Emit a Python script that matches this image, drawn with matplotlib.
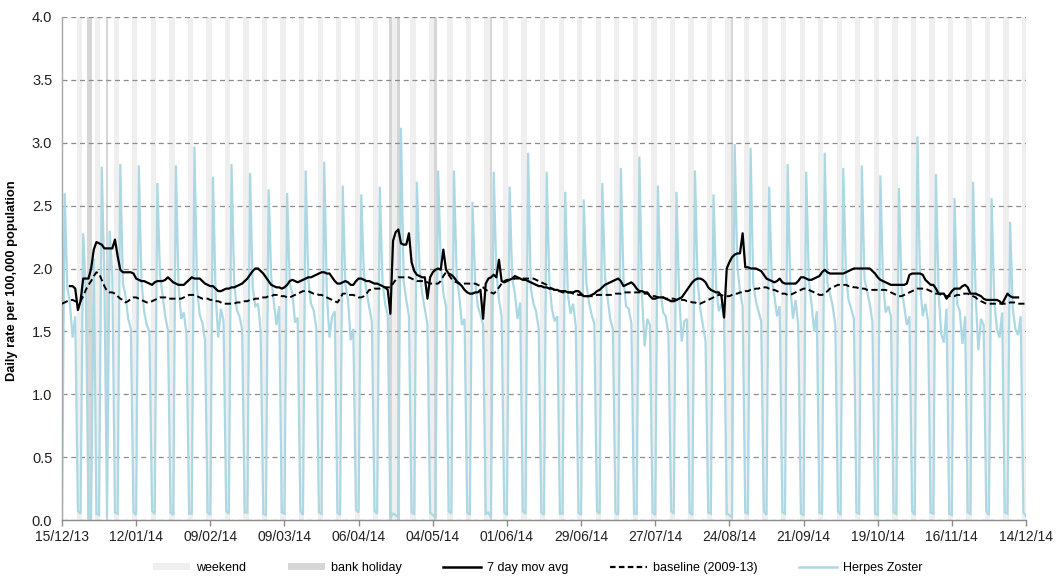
import numpy as np
import matplotlib
matplotlib.use("Agg")
import matplotlib.pyplot as plt
from matplotlib.patches import Patch
from matplotlib.lines import Line2D
from matplotlib.ticker import FormatStrFormatter
import datetime as dt

plt.rcParams['font.family'] = ['Liberation Sans', 'DejaVu Sans']

# ---------------- data ----------------
start_date = dt.date(2013, 12, 15)   # Sunday, day 0
n_days = 365

bank_holidays = ["2013-12-25", "2013-12-26", "2014-01-01", "2014-04-18",
                 "2014-04-21", "2014-05-05", "2014-05-26", "2014-08-25"]

tick_labels = ["15/12/13", "12/01/14", "09/02/14", "09/03/14", "06/04/14",
               "04/05/14", "01/06/14", "29/06/14", "27/07/14", "24/08/14",
               "21/09/14", "19/10/14", "16/11/14", "14/12/14"]

# Herpes Zoster daily rate, weeks Sun..Sat
herpes_zoster = [
    0.03, 2.60, 1.85, 1.72, 1.45, 1.62, 0.07,
    0.05, 2.28, 1.82, 0.02, 0.02, 2.08, 0.05,
    0.04, 2.81, 1.92, 0.02, 2.30, 1.95, 0.06,
    0.05, 2.83, 1.88, 1.78, 1.60, 1.52, 0.06,
    0.04, 2.82, 1.90, 1.66, 1.55, 1.50, 0.07,
    0.05, 2.68, 1.95, 1.78, 1.62, 1.51, 0.06,
    0.04, 2.82, 1.86, 1.60, 1.65, 1.48, 0.05,
    0.05, 2.97, 1.84, 1.63, 1.57, 1.43, 0.06,
    0.04, 2.73, 1.80, 1.45, 1.68, 1.58, 0.07,
    0.05, 2.83, 1.90, 1.67, 1.62, 1.52, 0.06,
    0.06, 2.76, 1.85, 1.70, 1.72, 1.51, 0.05,
    0.04, 2.63, 1.93, 1.73, 1.55, 1.70, 0.06,
    0.05, 2.60, 1.88, 1.80, 1.57, 1.61, 0.07,
    0.04, 2.78, 1.92, 1.72, 1.67, 1.53, 0.06,
    0.05, 2.85, 1.80, 1.45, 1.62, 1.66, 0.06,
    0.04, 2.66, 1.87, 1.75, 1.43, 1.52, 0.08,
    0.06, 2.59, 1.95, 1.82, 1.69, 1.58, 0.07,
    0.05, 2.65, 1.90, 1.72, 1.63, 0.02, 0.05,
    0.04, 0.02, 3.12, 1.90, 1.75, 1.62, 0.06,
    0.05, 2.69, 2.00, 1.80, 1.68, 1.55, 0.06,
    0.04, 0.02, 2.78, 2.05, 1.80, 1.70, 0.07,
    0.05, 2.78, 1.95, 1.78, 1.55, 1.60, 0.06,
    0.04, 2.53, 1.90, 1.70, 1.63, 1.55, 0.05,
    0.06, 0.02, 2.77, 1.98, 1.75, 1.62, 0.06,
    0.04, 2.65, 1.92, 1.80, 1.60, 1.73, 0.07,
    0.05, 2.92, 1.85, 1.72, 1.66, 1.52, 0.06,
    0.04, 2.77, 1.90, 1.68, 1.58, 1.62, 0.05,
    0.05, 2.61, 1.80, 1.64, 1.72, 1.54, 0.06,
    0.04, 2.55, 1.88, 1.73, 1.63, 1.56, 0.07,
    0.05, 2.68, 1.94, 1.77, 1.60, 1.52, 0.06,
    0.04, 2.80, 1.92, 1.70, 1.68, 1.56, 0.05,
    0.05, 2.89, 1.78, 1.38, 1.60, 1.55, 0.06,
    0.04, 2.66, 1.82, 1.65, 1.62, 1.47, 0.07,
    0.05, 2.61, 1.80, 1.42, 1.58, 1.60, 0.06,
    0.04, 2.78, 1.90, 1.68, 1.55, 1.42, 0.06,
    0.05, 2.59, 1.85, 1.66, 1.72, 1.60, 0.05,
    0.04, 0.02, 2.99, 2.02, 1.82, 1.70, 0.06,
    0.05, 2.96, 1.88, 1.74, 1.66, 1.58, 0.07,
    0.04, 2.65, 1.92, 1.78, 1.62, 1.70, 0.06,
    0.05, 2.83, 1.86, 1.60, 1.75, 1.55, 0.05,
    0.04, 2.77, 1.90, 1.72, 1.50, 1.66, 0.06,
    0.05, 2.92, 1.88, 1.80, 1.70, 1.55, 0.07,
    0.04, 2.80, 1.95, 1.75, 1.68, 1.60, 0.06,
    0.05, 2.82, 1.92, 1.82, 1.72, 1.58, 0.05,
    0.04, 2.74, 1.90, 1.65, 1.70, 1.62, 0.06,
    0.05, 2.64, 1.85, 1.70, 1.55, 1.62, 0.07,
    0.04, 3.05, 1.88, 1.62, 1.72, 1.58, 0.06,
    0.05, 2.75, 1.80, 1.48, 1.41, 1.68, 0.05,
    0.04, 2.56, 1.72, 1.66, 1.40, 1.62, 0.06,
    0.05, 2.69, 1.78, 1.35, 1.60, 1.55, 0.07,
    0.04, 2.56, 1.75, 1.52, 1.45, 1.65, 0.06,
    0.05, 2.37, 1.68, 1.52, 1.47, 1.62, 0.06,
    0.03,
]

nan = float('nan')
mov_avg_7day = [
    nan, nan, nan, 1.86, 1.86, 1.84, 1.67,
    1.74, 1.92, 1.92, 1.92, 2.00, 2.15, 2.21,
    2.20, 2.19, 2.16, 2.16, 2.16, 2.16, 2.23,
    2.10, 1.99, 1.97, 1.97, 1.97, 1.97, 1.96,
    1.92, 1.91, 1.90, 1.90, 1.89, 1.88, 1.87,
    1.89, 1.90, 1.90, 1.90, 1.91, 1.93, 1.91,
    1.89, 1.88, 1.87, 1.87, 1.87, 1.89, 1.91,
    1.93, 1.92, 1.92, 1.92, 1.90, 1.88, 1.87,
    1.86, 1.86, 1.84, 1.82, 1.82, 1.83, 1.84,
    1.84, 1.85, 1.85, 1.86, 1.87, 1.88, 1.90,
    1.92, 1.95, 1.98, 2.00, 2.00, 1.98, 1.96,
    1.93, 1.90, 1.87, 1.86, 1.85, 1.85, 1.84,
    1.85, 1.87, 1.90, 1.91, 1.90, 1.89, 1.90,
    1.91, 1.92, 1.93, 1.93, 1.94, 1.95, 1.96,
    1.97, 1.97, 1.96, 1.96, 1.93, 1.90, 1.88,
    1.88, 1.89, 1.90, 1.89, 1.87, 1.87, 1.90,
    1.92, 1.92, 1.91, 1.90, 1.90, 1.89, 1.88,
    1.88, 1.87, 1.86, 1.85, 1.83, 1.64, 2.22,
    2.29, 2.31, 2.20, 2.19, 2.19, 2.28, 2.05,
    1.98, 1.95, 1.94, 1.93, 1.93, 1.76, 1.93,
    1.97, 1.99, 2.00, 1.99, 2.15, 1.99, 1.96,
    1.95, 1.93, 1.90, 1.88, 1.86, 1.83, 1.81,
    1.80, 1.80, 1.81, 1.81, 1.83, 1.60, 1.88,
    1.92, 1.93, 1.95, 1.93, 2.07, 1.90, 1.89,
    1.90, 1.91, 1.92, 1.94, 1.93, 1.92, 1.91,
    1.91, 1.90, 1.89, 1.88, 1.87, 1.86, 1.86,
    1.85, 1.85, 1.84, 1.84, 1.83, 1.83, 1.82,
    1.82, 1.82, 1.81, 1.81, 1.81, 1.82, 1.82,
    1.80, 1.78, 1.78, 1.78, 1.79, 1.80, 1.82,
    1.83, 1.85, 1.87, 1.88, 1.89, 1.90, 1.91,
    1.92, 1.90, 1.86, 1.87, 1.88, 1.89, 1.87,
    1.84, 1.82, 1.82, 1.81, 1.81, 1.78, 1.76,
    1.76, 1.77, 1.77, 1.77, 1.76, 1.75, 1.74,
    1.74, 1.75, 1.76, 1.77, 1.80, 1.83, 1.86,
    1.89, 1.91, 1.92, 1.92, 1.91, 1.89, 1.85,
    1.83, 1.82, 1.81, 1.81, 1.78, 1.61, 2.00,
    2.05, 2.09, 2.11, 2.12, 2.12, 2.28, 2.01,
    2.01, 2.00, 2.00, 2.00, 1.99, 1.98, 1.95,
    1.92, 1.91, 1.90, 1.89, 1.90, 1.92, 1.89,
    1.88, 1.88, 1.88, 1.88, 1.88, 1.90, 1.93,
    1.93, 1.92, 1.91, 1.91, 1.92, 1.93, 1.94,
    1.97, 1.99, 1.97, 1.96, 1.96, 1.96, 1.96,
    1.96, 1.96, 1.97, 1.98, 1.99, 2.00, 2.00,
    2.00, 2.00, 2.00, 2.00, 2.00, 1.98, 1.96,
    1.93, 1.91, 1.90, 1.89, 1.88, 1.87, 1.87,
    1.87, 1.87, 1.87, 1.87, 1.88, 1.95, 1.96,
    1.96, 1.96, 1.96, 1.95, 1.91, 1.89, 1.87,
    1.87, 1.84, 1.80, 1.80, 1.80, 1.76, 1.79,
    1.82, 1.84, 1.84, 1.84, 1.86, 1.87, 1.85,
    1.80, 1.80, 1.80, 1.79, 1.78, 1.76, 1.75,
    1.75, 1.75, 1.75, 1.75, 1.74, 1.72, 1.76,
    1.80, 1.78, 1.77, 1.77, 1.77, nan, nan,
    nan,
]

baseline_2009_13 = [
    1.72, 1.73, 1.74, 1.75, 1.75, 1.74, 1.73,
    1.74, 1.78, 1.83, 1.87, 1.90, 1.94, 1.97,
    1.96, 1.91, 1.86, 1.82, 1.81, 1.81, 1.80,
    1.78, 1.76, 1.75, 1.73, 1.74, 1.76, 1.77,
    1.77, 1.76, 1.75, 1.74, 1.73, 1.73, 1.74,
    1.75, 1.76, 1.77, 1.77, 1.77, 1.76, 1.76,
    1.76, 1.76, 1.76, 1.76, 1.77, 1.78, 1.79,
    1.79, 1.79, 1.78, 1.77, 1.76, 1.76, 1.76,
    1.75, 1.75, 1.74, 1.74, 1.73, 1.72, 1.72,
    1.72, 1.72, 1.72, 1.73, 1.73, 1.73, 1.74,
    1.74, 1.75, 1.75, 1.76, 1.76, 1.77, 1.77,
    1.77, 1.78, 1.78, 1.79, 1.79, 1.79, 1.78,
    1.78, 1.77, 1.77, 1.78, 1.79, 1.80, 1.81,
    1.82, 1.82, 1.82, 1.81, 1.80, 1.80, 1.79,
    1.79, 1.78, 1.77, 1.76, 1.75, 1.74, 1.73,
    1.76, 1.80, 1.80, 1.79, 1.79, 1.79, 1.78,
    1.77, 1.77, 1.78, 1.80, 1.83, 1.83, 1.84,
    1.84, 1.84, 1.85, 1.85, 1.85, 1.85, 1.88,
    1.91, 1.93, 1.93, 1.93, 1.93, 1.93, 1.92,
    1.91, 1.90, 1.90, 1.90, 1.90, 1.89, 1.88,
    1.88, 1.88, 1.88, 1.90, 1.94, 1.97, 1.95,
    1.92, 1.90, 1.89, 1.88, 1.88, 1.88, 1.88,
    1.88, 1.88, 1.88, 1.87, 1.86, 1.85, 1.83,
    1.82, 1.81, 1.80, 1.82, 1.85, 1.88, 1.90,
    1.91, 1.91, 1.91, 1.92, 1.92, 1.92, 1.92,
    1.92, 1.92, 1.92, 1.92, 1.91, 1.90, 1.89,
    1.88, 1.87, 1.85, 1.84, 1.83, 1.82, 1.82,
    1.81, 1.81, 1.81, 1.81, 1.80, 1.80, 1.79,
    1.79, 1.78, 1.78, 1.78, 1.78, 1.78, 1.79,
    1.79, 1.79, 1.79, 1.79, 1.79, 1.79, 1.80,
    1.80, 1.80, 1.81, 1.81, 1.81, 1.81, 1.81,
    1.81, 1.81, 1.81, 1.80, 1.80, 1.79, 1.78,
    1.78, 1.77, 1.77, 1.77, 1.76, 1.76, 1.76,
    1.76, 1.75, 1.75, 1.75, 1.75, 1.74, 1.74,
    1.73, 1.73, 1.72, 1.72, 1.73, 1.74, 1.75,
    1.76, 1.77, 1.78, 1.79, 1.79, 1.78, 1.78,
    1.78, 1.79, 1.80, 1.80, 1.81, 1.81, 1.82,
    1.82, 1.83, 1.83, 1.84, 1.84, 1.85, 1.85,
    1.85, 1.84, 1.83, 1.83, 1.82, 1.81, 1.80,
    1.80, 1.79, 1.79, 1.80, 1.81, 1.82, 1.83,
    1.84, 1.84, 1.83, 1.82, 1.81, 1.80, 1.79,
    1.79, 1.80, 1.82, 1.84, 1.85, 1.86, 1.87,
    1.87, 1.87, 1.87, 1.86, 1.86, 1.85, 1.85,
    1.84, 1.84, 1.84, 1.83, 1.83, 1.83, 1.83,
    1.83, 1.83, 1.83, 1.83, 1.82, 1.81, 1.80,
    1.79, 1.78, 1.78, 1.79, 1.80, 1.81, 1.82,
    1.83, 1.84, 1.84, 1.84, 1.84, 1.83, 1.82,
    1.81, 1.80, 1.80, 1.79, 1.79, 1.78, 1.78,
    1.78, 1.78, 1.79, 1.79, 1.80, 1.80, 1.80,
    1.79, 1.78, 1.77, 1.75, 1.74, 1.73, 1.72,
    1.72, 1.72, 1.72, 1.72, 1.72, 1.72, 1.72,
    1.72, 1.73, 1.73, 1.73, 1.72, 1.72, 1.72,
    1.72,
]

# ---------------- derived positions ----------------
days = np.arange(n_days)
dates = [start_date + dt.timedelta(days=int(d)) for d in days]
hol_dates = {dt.date.fromisoformat(s) for s in bank_holidays}
is_hol = np.array([d in hol_dates for d in dates])
is_weekend = np.array([d.weekday() >= 5 for d in dates]) & ~is_hol
y_top = 4.0

# ---------------- figure ----------------
fig = plt.figure(figsize=(10.58, 5.77), dpi=100)
ax = fig.add_axes([62/1058, 1 - 520/577, (1026 - 62)/1058, (520 - 17)/577])

c_week = '#efefef'
c_hol = '#d6d6d6'
c_hz = '#acd8e4'

ax.bar(days[is_weekend], np.full(is_weekend.sum(), y_top), width=1.0,
       color=c_week, linewidth=0, zorder=0.3)
ax.bar(days[is_hol], np.full(is_hol.sum(), y_top), width=1.0,
       color=c_hol, linewidth=0, zorder=0.3)

ax.plot(days, herpes_zoster, color=c_hz, lw=1.6, zorder=2, solid_joinstyle='miter')
ax.plot(days, baseline_2009_13, color='black', lw=1.4, ls=(0, (3.2, 1.8)), zorder=3)
ax.plot(days, mov_avg_7day, color='black', lw=1.6, zorder=4)

ax.set_xlim(0, n_days - 1)
ax.set_ylim(0, y_top)
ax.set_yticks(np.arange(0, 4.01, 0.5))
ax.yaxis.set_major_formatter(FormatStrFormatter('%.1f'))
ax.set_xticks(np.arange(0, n_days, 28))
ax.set_xticklabels(tick_labels)

ax.set_axisbelow(True)
ax.yaxis.grid(True, color='#8c8c8c', lw=0.9, ls=(0, (4, 3)))
ax.xaxis.grid(False)

for s in ['top', 'right']:
    ax.spines[s].set_visible(False)
ax.spines['left'].set_color('#a6a6a6')
ax.spines['bottom'].set_color('#8c8c8c')
ax.spines['left'].set_linewidth(1.0)
ax.spines['bottom'].set_linewidth(1.0)

ax.tick_params(axis='y', length=0, pad=7, labelsize=10.5, labelcolor='#202020')
ax.tick_params(axis='x', length=4, width=1, color='#8c8c8c', direction='out',
               pad=3, labelsize=10, labelcolor='#202020')

ax.set_ylabel('Daily rate per 100,000 population', fontsize=9.3,
              fontweight='bold')
ax.yaxis.set_label_coords(-0.046, 0.475)

handles = [
    Patch(facecolor=c_week, edgecolor='none', label='weekend'),
    Patch(facecolor=c_hol, edgecolor='none', label='bank holiday'),
    Line2D([], [], color='black', lw=1.8, label='7 day mov avg'),
    Line2D([], [], color='black', lw=1.6, ls=(0, (2.5, 1.5)), label='baseline (2009-13)'),
    Line2D([], [], color=c_hz, lw=1.8, label='Herpes Zoster'),
]
fig.legend(handles=handles, loc='center', bbox_to_anchor=(0.508, 0.015),
           ncol=5, frameon=False, fontsize=9, handlelength=3.0,
           handleheight=0.5, handletextpad=0.5, columnspacing=3.3,
           borderpad=0.1)

fig.savefig('out.png', dpi=100)
